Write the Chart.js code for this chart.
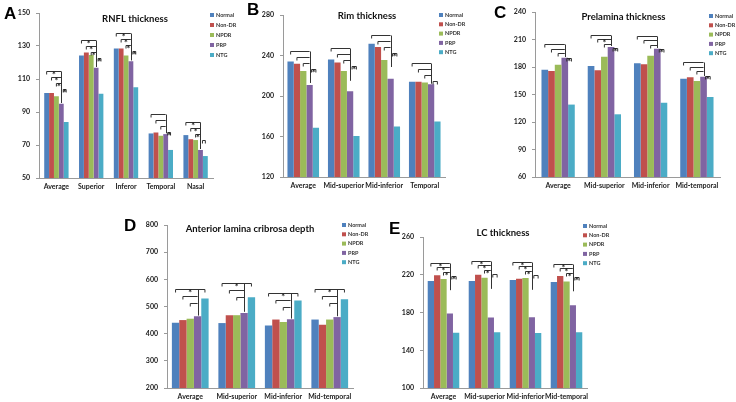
<!DOCTYPE html>
<html>
<head>
<meta charset="utf-8">
<script src="https://cdn.jsdelivr.net/npm/chart.js@4.4.0/dist/chart.umd.min.js"></script>
<style>
  body { margin: 0; background: #fff; }
  #wrap { position: relative; width: 736px; height: 402px; overflow: hidden; }
  canvas { position: absolute; }
  .lbl { position: absolute; font: bold 17px "Liberation Sans", Arial, sans-serif; line-height: 1; color: #000; }
</style>
</head>
<body>
<div id="wrap">
  <canvas id="cA" width="240" height="200" style="left:0;top:0"></canvas>
  <canvas id="cB" width="250" height="200" style="left:240px;top:0"></canvas>
  <canvas id="cC" width="246" height="200" style="left:490px;top:0"></canvas>
  <canvas id="cD" width="290" height="202" style="left:100px;top:200px"></canvas>
  <canvas id="cE" width="240" height="202" style="left:395px;top:200px"></canvas>
  <div class="lbl" style="left:4px;top:5px">A</div>
  <div class="lbl" style="left:247px;top:1px">B</div>
  <div class="lbl" style="left:494px;top:4px">C</div>
  <div class="lbl" style="left:124px;top:217px">D</div>
  <div class="lbl" style="left:389px;top:220px">E</div>
</div>
<script>
const seriesNames = ["Normal", "Non-DR", "NPDR", "PRP", "NTG"];
const seriesColors = ["#4F81BD", "#C0504D", "#9BBB59", "#8064A2", "#4BACC6"];

// A - RNFL thickness (rows: Normal, Non-DR, NPDR, PRP, NTG)
const rnflCats = ["Average", "Superior", "Inferor", "Temporal", "Nasal"];
const rnflValues = [
  [101.5, 124.2, 128.5, 77, 76],
  [101.5, 126, 128.5, 77.6, 73.5],
  [99.5, 124.6, 124.2, 75.6, 73],
  [95, 116.8, 120.8, 76.6, 67],
  [84, 101, 105, 67, 63.3]
];
const rnflTicks = [50, 70, 90, 110, 130, 150];

// B - Rim thickness
const rimCats = ["Average", "Mid-superior", "Mid-inferior", "Temporal"];
const rimValues = [
  [234, 236, 251.7, 214],
  [231.8, 233, 248.5, 214],
  [224.6, 224.6, 235.6, 213.4],
  [210.8, 204.6, 217, 211.5],
  [168.7, 160.5, 170, 174.7]
];
const rimTicks = [120, 160, 200, 240, 280];

// C - Prelamina thickness
const preCats = ["Average", "Mid-superior", "Mid-inferior", "Mid-temporal"];
const preValues = [
  [177, 181, 184, 167.3],
  [175.6, 176.4, 183, 168.7],
  [182.5, 191.3, 192.4, 164.7],
  [190, 201.8, 200, 169.5],
  [139, 128.4, 141, 147.3]
];
const preTicks = [60, 90, 120, 150, 180, 210, 240];

// D - Anterior lamina cribrosa depth
const alcdCats = ["Average", "Mid-superior", "Mid-inferior", "Mid-temporal"];
const alcdValues = [
  [440, 439, 430, 452],
  [450, 468, 452, 433],
  [455, 468, 443, 452],
  [464, 476, 453, 461],
  [529, 534, 522, 527]
];
const alcdTicks = [200, 300, 400, 500, 600, 700, 800];

// E - LC thickness
const lcCats = ["Average", "Mid-superior", "Mid-inferior", "Mid-temporal"];
const lcValues = [
  [213.3, 213.3, 214.4, 212.2],
  [219.6, 220, 215.8, 218.6],
  [215.4, 216.8, 216.5, 212.8],
  [179, 174.6, 175, 187.8],
  [158.6, 159, 158.2, 159]
];
const lcTicks = [100, 140, 180, 220, 260];

// significance brackets: top level per category (axis units), star flags per bracket
const rnflBracketTop = [114.6, 133.9, 137.9, 88.6, 84];
const rnflStars = [[1,1,1,1],[1,1,1,1],[1,1,1,1],[0,0,0,1],[1,1,1,0]];
const rimBracketTop = [244.8, 247, 260.3, 233];
const rimStars = [[0,0,0,1],[0,0,0,1],[0,0,0,1],[0,0,0,0]];
const preBracketTop = [205, 215.3, 214, 185];
const preStars = [[0,0,0,1],[0,1,0,1],[0,0,0,1],[0,0,0,1]];
const alcdBracketTop = [566, 585, 548, 564];
const alcdStars = [[1,0,0],[1,0,0],[1,0,0],[1,0,0]];
const lcBracketTop = [232.9, 234.6, 233.6, 231.8];
const lcStars = [[1,1,1,1],[1,1,1,0],[1,1,1,0],[1,1,1,1]];

// [from bar, to bar, bar the vertical drops to]
const stairToPRP = [[0, 3, 3], [1, 3, 3], [2, 3, 3], [3, 4, null]];
const stairToNTG = [[0, 4, 3], [1, 3, 3], [2, 3, 3]];

const F = "Lato, 'Open Sans', sans-serif";

const marks = {
  id: "marks",
  afterDatasetsDraw(chart, args, o) {
    const ctx = chart.ctx, ys = chart.scales.y, area = chart.chartArea;
    ctx.save();
    // brackets
    ctx.strokeStyle = "#333";
    ctx.fillStyle = "#222";
    ctx.lineWidth = 1;
    ctx.font = "bold 9px " + F;
    ctx.textAlign = "center";
    ctx.textBaseline = "alphabetic";
    o.tops.forEach((top, c) => {
      const base = ys.getPixelForValue(top);
      const last = base + (o.pattern.length - 1) * o.step;
      o.pattern.forEach((p, i) => {
        const lvl = Math.round(base + i * o.step) + 0.5;
        const bar = k => chart.getDatasetMeta(k).data[c];
        let xa = bar(p[0]).x, xb = bar(p[1]).x;
        if (p[2] === null) xa += 2;
        ctx.beginPath();
        ctx.moveTo(xa, lvl + 3);
        ctx.lineTo(xa, lvl);
        ctx.lineTo(xb, lvl);
        if (p[2] !== p[1]) ctx.lineTo(xb, lvl + 3);
        ctx.stroke();
        if (p[2] !== null) {
          const d = bar(p[2]);
          const end = Math.min(d.y - 1, last + 14);
          ctx.beginPath();
          ctx.moveTo(Math.round(d.x) + 0.5, lvl);
          ctx.lineTo(Math.round(d.x) + 0.5, end);
          ctx.stroke();
        }
        if (o.stars[c][i]) ctx.fillText("*", (xa + xb) / 2, lvl + 6);
      });
    });
    // title
    ctx.font = "bold 9.5px " + F;
    ctx.fillStyle = "#111";
    ctx.textBaseline = "middle";
    ctx.fillText(o.title, (area.left + area.right) / 2 + o.tx, area.top + o.ty);
    // legend
    ctx.font = "bold " + (o.lfont || 5.5) + "px " + F;
    ctx.textAlign = "left";
    chart.data.datasets.forEach((ds, i) => {
      const x = area.right + o.lx, y = area.top + o.ly + i * o.lstep;
      ctx.fillStyle = ds.backgroundColor;
      ctx.fillRect(x, y - 2, 4, 4);
      ctx.fillStyle = "#333";
      ctx.fillText(ds.label, x + 6, y);
    });
    ctx.restore();
  }
};

function panel(id, o) {
  new Chart(document.getElementById(id), {
    type: "bar",
    data: {
      labels: o.cats,
      datasets: o.values.map((v, i) => ({
        label: seriesNames[i],
        data: v,
        backgroundColor: seriesColors[i],
        borderWidth: 0
      }))
    },
    options: {
      responsive: false,
      animation: false,
      devicePixelRatio: 1,
      layout: { padding: o.pad },
      datasets: { bar: { categoryPercentage: o.cp, barPercentage: 1 } },
      plugins: {
        legend: { display: false },
        title: { display: false },
        tooltip: { enabled: false },
        marks: o.marks
      },
      scales: {
        x: {
          grid: { display: false, drawTicks: false },
          border: { color: "#9a9a9a" },
          ticks: { font: { size: 7, weight: "bold", family: F }, color: "#222", padding: 5, maxRotation: 0, autoSkip: false },
          afterFit: s => { s.height = o.xh; }
        },
        y: {
          min: o.ticks[0],
          max: o.ticks[o.ticks.length - 1],
          grid: { drawOnChartArea: false, tickLength: 3, color: "#9a9a9a" },
          border: { color: "#9a9a9a" },
          ticks: { stepSize: o.ticks[1] - o.ticks[0], font: { size: 7, weight: "bold", family: F }, color: "#222", padding: 6 },
          afterFit: s => { s.width = 27; }
        }
      }
    },
    plugins: [marks]
  });
}

panel("cA", {
  cats: rnflCats, values: rnflValues, ticks: rnflTicks, cp: 0.7, xh: 20,
  pad: { left: 12, right: 27, top: 13, bottom: 2 },
  marks: { title: "RNFL thickness", tx: 9, ty: 6, lx: -3, ly: 2, lstep: 10,
           tops: rnflBracketTop, stars: rnflStars, pattern: stairToPRP, step: 6 }
});
panel("cB", {
  cats: rimCats, values: rimValues, ticks: rimTicks, cp: 0.78, xh: 20,
  pad: { left: 16, right: 45, top: 15, bottom: 3 },
  marks: { title: "Rim thickness", tx: 3, ty: 1, lx: -6, ly: 0, lstep: 9.3,
           tops: rimBracketTop, stars: rimStars, pattern: stairToPRP, step: 6 }
});
panel("cC", {
  cats: preCats, values: preValues, ticks: preTicks, cp: 0.72, xh: 20,
  pad: { left: 18, right: 16, top: 12, bottom: 3 },
  marks: { title: "Prelamina thickness", tx: -4, ty: 5, lx: -11, ly: 4, lstep: 9.3,
           tops: preBracketTop, stars: preStars, pattern: stairToPRP, step: 4.5 }
});
panel("cD", {
  cats: alcdCats, values: alcdValues, ticks: alcdTicks, cp: 0.79, xh: 14,
  pad: { left: 40, right: 37, top: 25, bottom: 0 },
  marks: { title: "Anterior lamina cribrosa depth", tx: -10, ty: 4, lx: -11, ly: 0, lstep: 9.3,
           tops: alcdBracketTop, stars: alcdStars, pattern: stairToNTG, step: 7 }
});
panel("cE", {
  cats: lcCats, values: lcValues, ticks: lcTicks, cp: 0.77, xh: 14,
  pad: { left: 1, right: 48, top: 37, bottom: 0 },
  marks: { title: "LC thickness", tx: -2, ty: -4, lx: -4, ly: -11, lstep: 9.3,
           tops: lcBracketTop, stars: lcStars, pattern: stairToPRP, step: 4.5 }
});
</script>
</body>
</html>
